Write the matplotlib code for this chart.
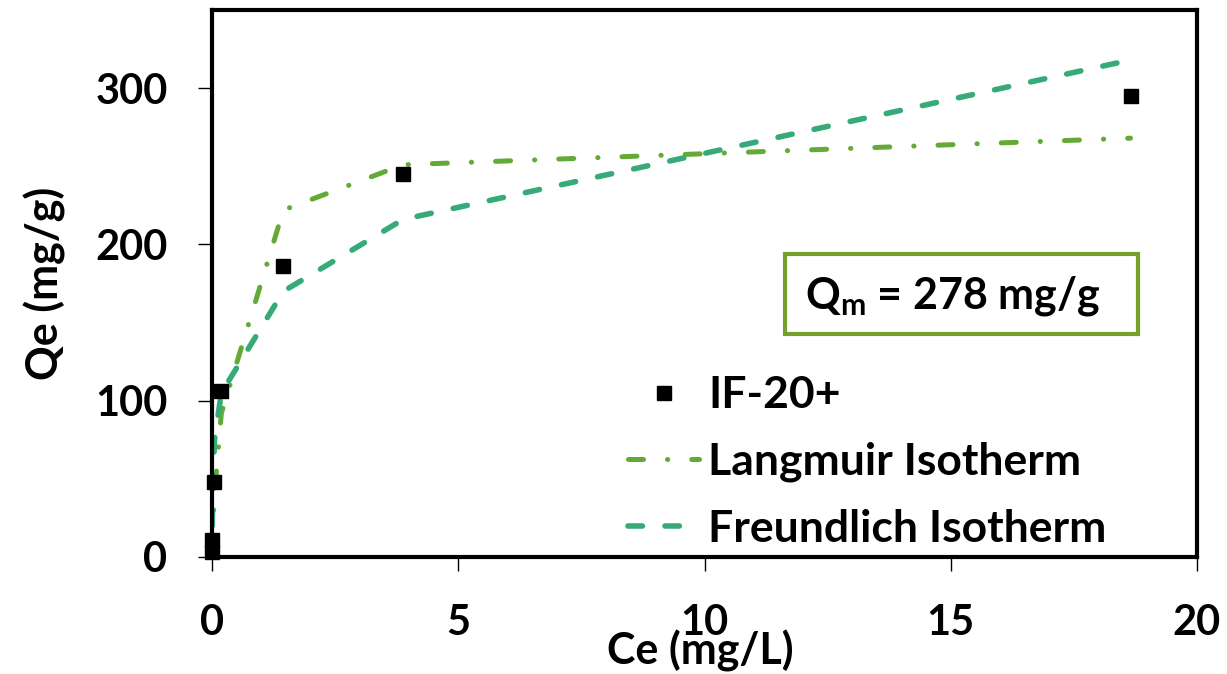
import matplotlib
matplotlib.use('Agg')

import matplotlib.pyplot as plt
from matplotlib.patches import Rectangle

# --- data ---
ce = [0.005, 0.01, 0.05, 0.19, 1.45, 3.88, 18.65]
qe = [3, 11, 48, 106, 186, 245, 295]
langmuir_fit = [5, 15, 40, 92, 222, 251, 268]
freundlich_fit = [20, 30, 75, 105, 170, 216, 318]

x_ticks = [0, 5, 10, 15, 20]
y_ticks = [0, 100, 200, 300]
qm_label = r'Q$_{\mathrm{m}}$ = 278 mg/g'

# --- style ---
plt.rcParams['font.family'] = ['Lato', 'DejaVu Sans']
plt.rcParams['font.weight'] = 'bold'
plt.rcParams['mathtext.fontset'] = 'custom'
plt.rcParams['mathtext.rm'] = 'Lato:bold'
plt.rcParams['mathtext.bf'] = 'Lato:bold'

lang_color = '#64AA37'
freu_color = '#36AB78'
box_color = '#77A02A'
tick_fs = 30
label_fs = 31
legend_fs = 32

fig = plt.figure(figsize=(12.27, 6.74), dpi=100)
ax = fig.add_axes([212 / 1227, 1 - 557 / 674, 985 / 1227, 547 / 674])

ax.plot(ce, langmuir_fit, color=lang_color, lw=3.6,
        linestyle=(0, (3.0, 4.8, 0.05, 4.8)), dash_capstyle='round',
        label='Langmuir Isotherm', zorder=2)
ax.plot(ce, freundlich_fit, color=freu_color, lw=4,
        linestyle=(0, (2.6, 4.05)), dash_capstyle='round',
        label='Freundlich Isotherm', zorder=2)
ax.plot(ce, qe, 's', color='black', markersize=10, label='IF-20+',
        clip_on=False, zorder=3)

ax.set_xlim(0, 20)
ax.set_ylim(0, 350)
ax.set_xticks(x_ticks)
ax.set_yticks(y_ticks)
ax.tick_params(axis='both', labelsize=tick_fs, width=1, length=10, direction='out')
ax.tick_params(axis='x', pad=24)
ax.tick_params(axis='y', pad=22)
for s in ax.spines.values():
    s.set_linewidth(3)

ax.set_xlabel('Ce (mg/L)', fontsize=label_fs, fontweight='bold')
ax.xaxis.set_label_coords(0.4954, (557 - 665) / 547)
ax.xaxis.label.set_va('baseline')
ax.set_ylabel('Qe (mg/g)', fontsize=label_fs, fontweight='bold')
ax.yaxis.set_label_coords(-0.1695, 0.5)
ax.yaxis.label.set_va('center')

# --- legend ---
h, l = ax.get_legend_handles_labels()
order = [2, 0, 1]
ax.legend([h[i] for i in order], [l[i] for i in order],
          loc='center left', bbox_to_anchor=((628 - 212) / 985, (557 - 462) / 547),
          frameon=False, fontsize=legend_fs, handlelength=1.6, handletextpad=0.2,
          labelspacing=0.6, borderpad=0, borderaxespad=0)

# --- Qm box ---
fig.patches.append(Rectangle((785 / 1227, 1 - 334 / 674), 353 / 1227, 80 / 674,
                             transform=fig.transFigure, fill=False,
                             edgecolor=box_color, lw=3))
fig.text(953 / 1227, 1 - 296 / 674, qm_label, fontsize=31, fontweight='bold',
         ha='center', va='center')

fig.savefig('out.png', dpi=100)
